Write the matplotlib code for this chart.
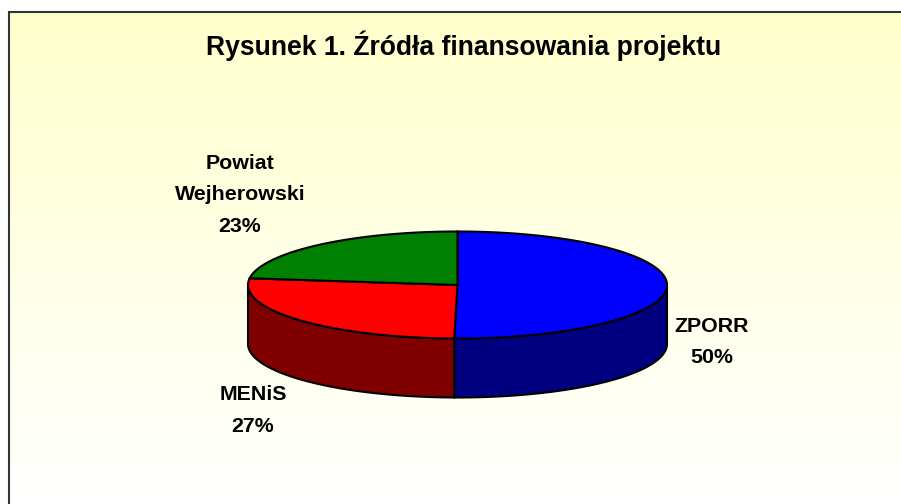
import numpy as np
import matplotlib
matplotlib.use('Agg')
import matplotlib.pyplot as plt
from matplotlib.patches import Polygon

plt.rcParams['font.family'] = ['Liberation Sans', 'DejaVu Sans']

title = 'Rysunek 1. Źródła finansowania projektu'
names = ['ZPORR', 'MENiS', 'Powiat\nWejherowski']
values = [50.25, 26.75, 23.0]
top_colors = ['#0000FF', '#FF0000', '#008000']
side_colors = ['#000080', '#800000', '#004000']

W, H = 901, 504
CX, CY = 457.5, 285.0   # ellipse centre [px]
RX, RY = 209.5, 53.5
DEPTH = 59.0
LABEL_POS = [(712, 342), (253, 410.5), (240, 195)]


def rim(a0, a1, dy=0.0):
    # angles in degrees clockwise from 12 o'clock
    t = np.radians(np.linspace(a0, a1, 200))
    return np.column_stack((CX + RX*np.sin(t), CY + dy - RY*np.cos(t)))


def main():
    fig = plt.figure(figsize=(W/100, H/100), dpi=100)
    ax = fig.add_axes([0, 0, 1, 1])
    ax.set_xlim(0, W)
    ax.set_ylim(H, 0)
    ax.axis('off')

    # yellow to white background
    grad = np.linspace(0, 1, 256).reshape(-1, 1)
    img = np.dstack((np.ones_like(grad), np.ones_like(grad), 0.8 + 0.2*grad))
    ax.imshow(img, extent=(9, W, H, 12), aspect='auto', zorder=0)
    ax.set_xlim(0, W)
    ax.set_ylim(H, 0)
    ax.plot([9, 9], [H, 12], color='#333333', lw=1.5, zorder=1, solid_capstyle='butt')
    ax.plot([9, W], [12, 12], color='#333333', lw=1.5, zorder=1, solid_capstyle='projecting')

    edges = np.cumsum([0] + values) / sum(values) * 360

    # side wall, only the part facing the viewer (90-270 deg)
    for i in range(len(values)):
        a0 = max(edges[i], 90)
        a1 = min(edges[i+1], 270)
        if a1 <= a0:
            continue
        pts = np.vstack((rim(a0, a1), rim(a1, a0, DEPTH)))
        ax.add_patch(Polygon(pts, closed=True, fc=side_colors[i], ec='k', lw=1.5, zorder=2))

    # top face
    for i in range(len(values)):
        pts = np.vstack(([[CX, CY]], rim(edges[i], edges[i+1])))
        ax.add_patch(Polygon(pts, closed=True, fc=top_colors[i], ec='k', lw=1.5, zorder=3))

    ax.text(464, 46, title, ha='center', va='center', fontsize=19.1, fontweight='bold', color='k')
    for name, val, (x, y) in zip(names, values, LABEL_POS):
        ax.text(x, y, f'{name}\n{round(val)}%', ha='center', va='center', fontsize=15.4,
                fontweight='bold', color='k', linespacing=1.83, multialignment='center')

    fig.savefig('out.png', dpi=100)


if __name__ == '__main__':
    main()
